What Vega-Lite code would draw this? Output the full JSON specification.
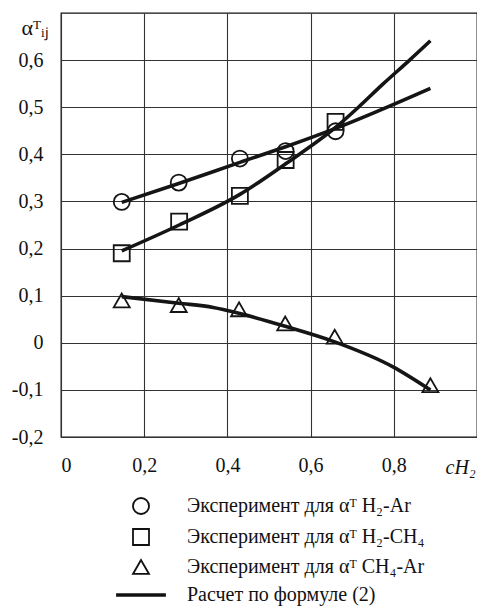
{
  "$schema": "https://vega.github.io/schema/vega-lite/v6.json",
  "width": 416,
  "height": 424,
  "autosize": {"type": "none"},
  "padding": {"left": 61, "top": 13, "right": 0, "bottom": 174},
  "background": "white",
  "config": {
    "font": "'Liberation Serif', serif",
    "view": {"stroke": "#111", "strokeWidth": 1.3},
    "axis": {
      "domain": false,
      "ticks": false,
      "grid": true,
      "gridColor": "#333",
      "gridWidth": 1.1,
      "gridOpacity": 1,
      "labelFont": "'Liberation Serif', serif",
      "labelFontSize": 20,
      "labelColor": "#111",
      "titleFont": "'Liberation Serif', serif",
      "titleColor": "#111",
      "titleFontWeight": "normal"
    },
    "legend": {
      "orient": "none",
      "legendX": 70,
      "legendY": 483,
      "direction": "vertical",
      "padding": 0,
      "symbolSize": 256,
      "symbolStrokeWidth": 1.8,
      "symbolStrokeColor": "#111",
      "symbolFillColor": "transparent",
      "labelFont": "'Liberation Serif', serif",
      "labelFontSize": 20,
      "labelColor": "#111",
      "labelOffset": 36,
      "labelLimit": 0,
      "rowPadding": 7
    }
  },
  "datasets": {
    "exp": [
      {"series": "H2-Ar", "c": 0.146, "a": 0.299},
      {"series": "H2-Ar", "c": 0.283, "a": 0.340},
      {"series": "H2-Ar", "c": 0.430, "a": 0.391},
      {"series": "H2-Ar", "c": 0.540, "a": 0.407},
      {"series": "H2-Ar", "c": 0.660, "a": 0.449},
      {"series": "H2-CH4", "c": 0.146, "a": 0.190},
      {"series": "H2-CH4", "c": 0.284, "a": 0.257},
      {"series": "H2-CH4", "c": 0.430, "a": 0.312},
      {"series": "H2-CH4", "c": 0.540, "a": 0.388},
      {"series": "H2-CH4", "c": 0.660, "a": 0.469},
      {"series": "CH4-Ar", "c": 0.146, "a": 0.090},
      {"series": "CH4-Ar", "c": 0.283, "a": 0.080},
      {"series": "CH4-Ar", "c": 0.428, "a": 0.071},
      {"series": "CH4-Ar", "c": 0.539, "a": 0.041},
      {"series": "CH4-Ar", "c": 0.658, "a": 0.013},
      {"series": "CH4-Ar", "c": 0.888, "a": -0.090}
    ],
    "calc": [
      {"series": "H2-Ar", "c": 0.146, "a": 0.298},
      {"series": "H2-Ar", "c": 0.283, "a": 0.338},
      {"series": "H2-Ar", "c": 0.430, "a": 0.383},
      {"series": "H2-Ar", "c": 0.540, "a": 0.416},
      {"series": "H2-Ar", "c": 0.660, "a": 0.455},
      {"series": "H2-Ar", "c": 0.888, "a": 0.540},
      {"series": "H2-CH4", "c": 0.146, "a": 0.195},
      {"series": "H2-CH4", "c": 0.284, "a": 0.250},
      {"series": "H2-CH4", "c": 0.430, "a": 0.315},
      {"series": "H2-CH4", "c": 0.540, "a": 0.380},
      {"series": "H2-CH4", "c": 0.660, "a": 0.457},
      {"series": "H2-CH4", "c": 0.715, "a": 0.500},
      {"series": "H2-CH4", "c": 0.775, "a": 0.550},
      {"series": "H2-CH4", "c": 0.838, "a": 0.600},
      {"series": "H2-CH4", "c": 0.888, "a": 0.641},
      {"series": "CH4-Ar", "c": 0.146, "a": 0.098},
      {"series": "CH4-Ar", "c": 0.283, "a": 0.084},
      {"series": "CH4-Ar", "c": 0.366, "a": 0.075},
      {"series": "CH4-Ar", "c": 0.430, "a": 0.062},
      {"series": "CH4-Ar", "c": 0.539, "a": 0.035},
      {"series": "CH4-Ar", "c": 0.658, "a": 0.002},
      {"series": "CH4-Ar", "c": 0.798, "a": -0.051},
      {"series": "CH4-Ar", "c": 0.888, "a": -0.100}
    ]
  },
  "encoding": {
    "x": {
      "field": "c",
      "type": "quantitative",
      "scale": {"domain": [0, 1], "nice": false, "zero": false},
      "axis": {
        "values": [0, 0.2, 0.4, 0.6, 0.8],
        "labelPadding": 18,
        "labelExpr": "datum.value == 0 ? '0' : replace(format(datum.value, '.1f'), '.', ',')",
        "title": "cH₂",
        "titleFontSize": 20,
        "titleFontStyle": "italic",
        "titleAnchor": "start",
        "titleAlign": "left",
        "titleBaseline": "middle",
        "titleX": 384,
        "titleY": 30
      }
    },
    "y": {
      "field": "a",
      "type": "quantitative",
      "scale": {"domain": [-0.2, 0.7], "nice": false, "zero": false},
      "axis": {
        "values": [-0.2, -0.1, 0, 0.1, 0.2, 0.3, 0.4, 0.5, 0.6],
        "labelPadding": 18,
        "labelExpr": "datum.value == 0 ? '0' : (datum.value < 0 ? '-' : '') + replace(format(abs(datum.value), '.1f'), '.', ',')",
        "title": "αᵀᵢⱼ",
        "titleFontSize": 22,
        "titleAngle": 0,
        "titleAlign": "left",
        "titleBaseline": "middle",
        "titleX": -40,
        "titleY": 14
      }
    }
  },
  "layer": [
    {
      "data": {"name": "calc"},
      "mark": {"type": "line", "interpolate": "monotone", "color": "#151515", "strokeWidth": 3.6},
      "encoding": {"detail": {"field": "series"}}
    },
    {
      "data": {"name": "exp"},
      "mark": {"type": "point", "filled": false, "color": "#151515", "strokeWidth": 1.8, "size": 256, "opacity": 1},
      "encoding": {
        "shape": {
          "field": "series",
          "type": "nominal",
          "scale": {
            "domain": ["H2-Ar", "H2-CH4", "CH4-Ar", "calc"],
            "range": ["circle", "square", "triangle-up", "M-3,-0.1H3V0.1H-3Z"]
          },
          "legend": {
            "title": null,
            "labelExpr": "datum.value == 'H2-Ar' ? 'Эксперимент для αᵀ H₂-Ar' : datum.value == 'H2-CH4' ? 'Эксперимент для αᵀ H₂-CH₄' : datum.value == 'CH4-Ar' ? 'Эксперимент для αᵀ CH₄-Ar' : 'Расчет по формуле (2)'"
          }
        }
      }
    }
  ]
}
